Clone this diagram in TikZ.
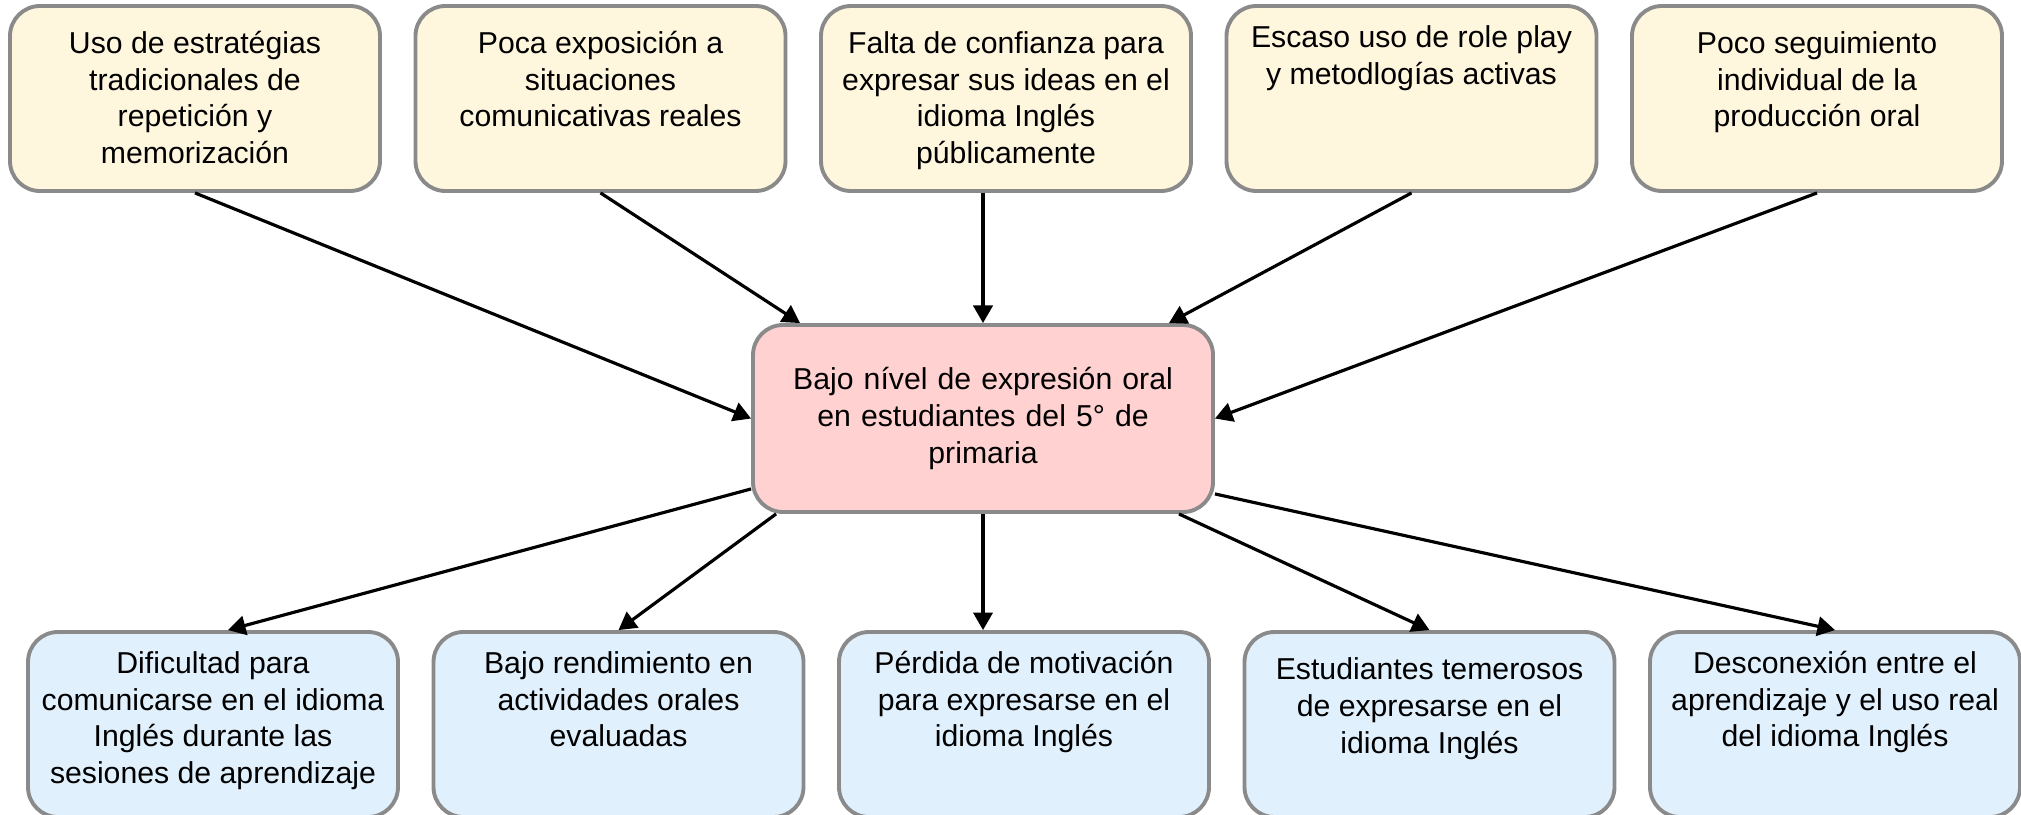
\documentclass[tikz,border=0pt]{standalone}
\usepackage{fontspec}
\setmainfont{Liberation Sans}
\usetikzlibrary{arrows.meta}
\definecolor{causefill}{HTML}{FFF6DE}
\definecolor{probfill}{HTML}{FFD1D1}
\definecolor{effectfill}{HTML}{E0F0FD}
\definecolor{edgegray}{HTML}{8A8A8A}
\newcommand{\boxlines}[2]{\parbox[c][1.85cm][t]{3.6cm}{\centering\rule{0pt}{#1}#2}}
\tikzset{
  box/.style={draw=edgegray, line width=1.1pt, rounded corners=0.3cm, inner sep=0pt,
    minimum width=3.7cm, minimum height=1.85cm, font=\fontsize{8.6}{10.5}\selectfont},
  cause/.style={box, fill=causefill},
  effect/.style={box, fill=effectfill},
  arr/.style={draw, line width=0.9pt, -{Triangle[length=5pt,width=5.5pt]}}
}
\begin{document}
\begin{tikzpicture}
\useasboundingbox (0,0) rectangle (20.21,-8.14);
\node[cause] (c1) at (1.95,-0.985) {\boxlines{13.4pt}{Uso de estratégias\\tradicionales de\\repetición y\\memorización}};
\node[cause] (c2) at (6.005,-0.985) {\boxlines{13.4pt}{Poca exposición a\\situaciones\\comunicativas reales}};
\node[cause] (c3) at (10.06,-0.985) {\boxlines{13.4pt}{Falta de confianza para\\expresar sus ideas en el\\idioma Inglés\\públicamente}};
\node[cause] (c4) at (14.115,-0.985) {\boxlines{11.9pt}{Escaso uso de role play\\y metodlogías activas}};
\node[cause] (c5) at (18.17,-0.985) {\boxlines{13.4pt}{Poco seguimiento\\individual de la\\producción oral}};
\node[box, fill=probfill, minimum width=4.6cm, minimum height=1.87cm, text width=4.3cm, align=center] (p) at (9.83,-4.185) {Bajo nível de expresión oral\\en estudiantes del 5° de\\primaria};
\node[effect] (e1) at (2.13,-7.245) {\boxlines{11.7pt}{Dificultad para\\comunicarse en el idioma\\Inglés durante las\\sesiones de aprendizaje}};
\node[effect] (e2) at (6.185,-7.245) {\boxlines{11.7pt}{Bajo rendimiento en\\actividades orales\\evaluadas}};
\node[effect] (e3) at (10.24,-7.245) {\boxlines{11.7pt}{Pérdida de motivación\\para expresarse en el\\idioma Inglés}};
\node[effect] (e4) at (14.295,-7.245) {\boxlines{13.6pt}{Estudiantes temerosos\\de expresarse en el\\idioma Inglés}};
\node[effect] (e5) at (18.35,-7.245) {\boxlines{11.7pt}{Desconexión entre el\\aprendizaje y el uso real\\del idioma Inglés}};

\path[arr] (c1.south) -- (p.west);
\path[arr] (c2.south) -- ([xshift=0.49cm]p.north west);
\path[arr] (c3.south -| p.north) -- (p.north);
\path[arr] (c4.south) -- ([xshift=-0.46cm]p.north east);
\path[arr] (c5.south) -- (p.east);

\path[arr] ([yshift=0.25cm]p.south west) -- ([xshift=0.15cm]e1.north);
\path[arr] ([xshift=0.25cm]p.south west) -- (e2.north);
\path[arr] (p.south) -- (p.south |- e3.north);
\path[arr] ([xshift=-0.36cm]p.south east) -- (e4.north);
\path[arr] ([yshift=0.2cm]p.south east) -- (e5.north);
\end{tikzpicture}
\end{document}
